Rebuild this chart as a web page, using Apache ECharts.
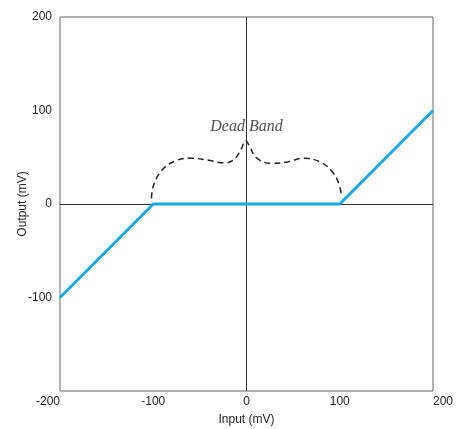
<!DOCTYPE html>
<html><head><meta charset="utf-8">
<script src="https://cdn.jsdelivr.net/npm/echarts@6/dist/echarts.min.js"></script>
<style>html,body{margin:0;padding:0;background:#fff;width:100%;height:100%;overflow:hidden}#c{width:457px;height:429px}</style>
</head><body><div id="c"></div>
<script>
const xTicks = [-200, -100, 0, 100, 200];
const yTicks = [-200, -100, 0, 100, 200];
const transferX = [-200, -100, 100, 200];
const transferY = [-100, 0, 0, 100];
const bandX = [-102, -99, -89, -74, -60, -42, -24, -14, -6, -1, 4, 11, 26, 44, 61, 79, 92, 99, 101.5];
const bandY = [6, 22, 38, 47, 49, 47, 44, 47, 58, 68, 60, 49, 43.5, 45, 49, 45, 34.5, 22, 11];
const label = {x: 0, y: 83, text: 'Dead Band'};

const chart = echarts.init(document.getElementById('c'), null, {renderer: 'canvas'});
const font = 'Liberation Sans, Arial, sans-serif';
chart.setOption({
  animation: false,
  grid: {left: 60, right: 24, top: 17, bottom: 38, show: true, borderColor: '#666', borderWidth: 1,
         containLabel: false, outerBoundsMode: 'none'},
  xAxis: {
    type: 'value', min: xTicks[0], max: xTicks[xTicks.length-1], interval: 100,
    name: 'Input (mV)', nameLocation: 'middle', nameGap: 23, nameMoveOverlap: false,
    nameTextStyle: {fontFamily: font, fontSize: 12, color: '#222'},
    axisLine: {show: false}, axisTick: {show: false}, splitLine: {show: false},
    axisLabel: {fontFamily: font, fontSize: 12, color: '#222', margin: 5, alignMinLabel: 'right', alignMaxLabel: 'left'}
  },
  yAxis: {
    type: 'value', min: yTicks[0], max: yTicks[yTicks.length-1], interval: 100,
    name: 'Output (mV)', nameLocation: 'middle', nameGap: 31, nameMoveOverlap: false,
    nameTextStyle: {fontFamily: font, fontSize: 12, color: '#222'},
    axisLine: {show: false}, axisTick: {show: false}, splitLine: {show: false},
    axisLabel: {fontFamily: font, fontSize: 12, color: '#222', margin: 8, showMinLabel: false}
  },
  series: [
    {
      type: 'line', data: transferX.map((x, i) => [x, transferY[i]]),
      symbol: 'none', lineStyle: {color: '#17a9e8', width: 3}, z: 5,
      markLine: {
        silent: true, symbol: 'none', label: {show: false},
        lineStyle: {color: '#333', width: 1, type: 'solid'},
        data: [{xAxis: 0}, {yAxis: 0}]
      }
    },
    {
      type: 'line', data: bandX.map((x, i) => [x, bandY[i]]),
      symbol: 'none', smooth: 0.4,
      lineStyle: {color: '#222', width: 1.5, type: [6, 4]}, z: 4
    },
    {
      type: 'scatter', data: [[label.x, label.y]], symbolSize: 0,
      label: {show: true, position: 'inside', formatter: label.text,
        fontFamily: 'Liberation Serif, Times New Roman, serif', fontStyle: 'italic',
        fontSize: 16, color: '#222'}
    }
  ]
});
</script></body></html>
